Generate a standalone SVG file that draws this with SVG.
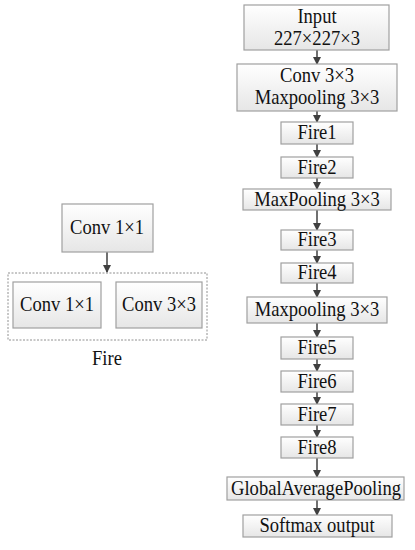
<svg xmlns="http://www.w3.org/2000/svg" width="415" height="550" viewBox="0 0 415 550">
<defs>
<linearGradient id="g" x1="0" y1="0" x2="0" y2="1">
<stop offset="0" stop-color="#ffffff"/>
<stop offset="1" stop-color="#e6e6e6"/>
</linearGradient>
<marker id="ah" markerWidth="8" markerHeight="8" refX="7" refY="4" orient="auto" markerUnits="userSpaceOnUse">
<path d="M0,0 L8,4 L0,8 Z" fill="#404040"/>
</marker>
<style>
.b{fill:url(#g);stroke:#a0a0a0;stroke-width:1.2}
.t{font-family:"Liberation Serif","Times New Roman",serif;font-size:18.6px;fill:#111;text-anchor:middle}
.c{stroke:#404040;stroke-width:1.5;fill:none;marker-end:url(#ah)}
</style>
</defs>
<rect width="415" height="550" fill="#fff"/>
<g id="connectors">
<line class="c" x1="317" y1="50" x2="317" y2="64"/>
<line class="c" x1="317" y1="111" x2="317" y2="122"/>
<line class="c" x1="317" y1="144" x2="317" y2="157"/>
<line class="c" x1="317" y1="178" x2="317" y2="189"/>
<line class="c" x1="317" y1="210" x2="317" y2="230"/>
<line class="c" x1="317" y1="250" x2="317" y2="263"/>
<line class="c" x1="317" y1="283" x2="317" y2="297"/>
<line class="c" x1="317" y1="323" x2="317" y2="337"/>
<line class="c" x1="317" y1="359" x2="317" y2="371"/>
<line class="c" x1="317" y1="392" x2="317" y2="404"/>
<line class="c" x1="317" y1="425" x2="317" y2="437"/>
<line class="c" x1="317" y1="458" x2="317" y2="477"/>
<line class="c" x1="317" y1="500" x2="317" y2="515"/>
<line class="c" x1="107" y1="252" x2="107" y2="272"/>
</g>
<g id="input"><rect class="b" x="244" y="5" width="145" height="45"/><text class="t" transform="translate(317,23) scale(1,1.12)">Input</text><text class="t" transform="translate(317,45) scale(1,1.12)">227×227×3</text></g>
<g id="conv"><rect class="b" x="237" y="64" width="160" height="47"/><text class="t" transform="translate(317,82) scale(1,1.12)">Conv 3×3</text><text class="t" transform="translate(317,104) scale(1,1.12)">Maxpooling 3×3</text></g>
<g id="fire1"><rect class="b" x="281" y="122" width="72" height="22"/><text class="t" transform="translate(317,139) scale(1,1.12)">Fire1</text></g>
<g id="fire2"><rect class="b" x="281" y="157" width="72" height="21"/><text class="t" transform="translate(317,174) scale(1,1.12)">Fire2</text></g>
<g id="maxpool1"><rect class="b" x="243" y="189" width="148" height="21"/><text class="t" transform="translate(317,206) scale(1,1.12)">MaxPooling 3×3</text></g>
<g id="fire3"><rect class="b" x="281" y="230" width="72" height="20"/><text class="t" transform="translate(317,246) scale(1,1.12)">Fire3</text></g>
<g id="fire4"><rect class="b" x="281" y="263" width="72" height="20"/><text class="t" transform="translate(317,279) scale(1,1.12)">Fire4</text></g>
<g id="maxpool2"><rect class="b" x="247" y="297" width="140" height="26"/><text class="t" transform="translate(317,316) scale(1,1.12)">Maxpooling 3×3</text></g>
<g id="fire5"><rect class="b" x="281" y="337" width="72" height="22"/><text class="t" transform="translate(317,354) scale(1,1.12)">Fire5</text></g>
<g id="fire6"><rect class="b" x="281" y="371" width="72" height="21"/><text class="t" transform="translate(317,388) scale(1,1.12)">Fire6</text></g>
<g id="fire7"><rect class="b" x="281" y="404" width="72" height="21"/><text class="t" transform="translate(317,421) scale(1,1.12)">Fire7</text></g>
<g id="fire8"><rect class="b" x="281" y="437" width="72" height="21"/><text class="t" transform="translate(317,454) scale(1,1.12)">Fire8</text></g>
<g id="gap"><rect class="b" x="227" y="477" width="177" height="23"/><text class="t" transform="translate(316,495) scale(1,1.12)">GlobalAveragePooling</text></g>
<g id="softmax"><rect class="b" x="243" y="515" width="149" height="22"/><text class="t" transform="translate(317,532) scale(1,1.12)">Softmax output</text></g>
<g id="squeeze"><rect class="b" x="62" y="204" width="91" height="48"/><text class="t" transform="translate(107,234) scale(1,1.12)">Conv 1×1</text></g>
<g id="fire-module">
<rect x="8" y="273" width="199" height="67" fill="none" stroke="#909090" stroke-width="1" stroke-dasharray="2,1.5"/>
<text class="t" transform="translate(107,365) scale(1,1.12)">Fire</text>
</g>
<g id="expand1"><rect class="b" x="13" y="282" width="88" height="46"/><text class="t" transform="translate(57,311) scale(1,1.12)">Conv 1×1</text></g>
<g id="expand3"><rect class="b" x="116" y="282" width="86" height="46"/><text class="t" transform="translate(159,311) scale(1,1.12)">Conv 3×3</text></g>
</svg>
